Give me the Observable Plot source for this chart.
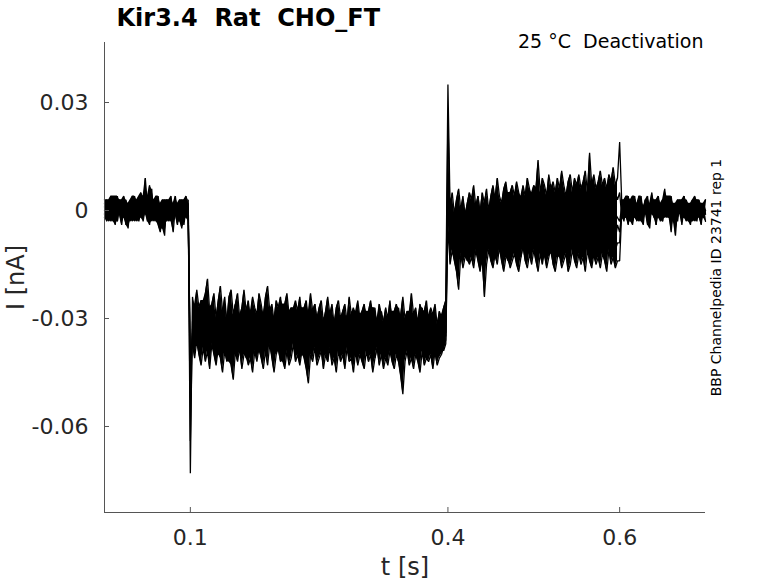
<!DOCTYPE html>
<html>
<head>
<meta charset="utf-8">
<script src="https://cdn.jsdelivr.net/npm/d3@7"></script>
<script src="https://cdn.jsdelivr.net/npm/@observablehq/plot@0.6"></script>
<style>
  html, body { margin: 0; padding: 0; background: #fff; }
</style>
</head>
<body>
<div id="chart"></div>
<script>
// ---- text ----
const title = "Kir3.4  Rat  CHO_FT";
const condition = "25 °C  Deactivation";
const sideNote = "BBP Channelpedia ID 23741 rep 1";
const xLabel = "t [s]";
const yLabel = "I [nA]";
const xTicks = [0.1, 0.4, 0.6];
const yTicks = [0.03, 0, -0.03, -0.06];

// ---- sampling (s) and segment boundaries ----
const dt = 0.0025;
const tStepOn = 0.1, tStepOff = 0.4, tEnd = 0.6;

// ---- current samples in pA, one row per sweep ----
// holding before the step, 0 – 0.0975 s
const restBefore = [
  [1,-2,3,0,-3,2,4,-1,-4,1,3,-2,0,4,-3,-1,2,5,-2,9,1,-3,3,-1,2,-4,-6,0,3,-2,1,4,-3,0,2,-1,3,-4,1,2],
  [-2,1,-3,3,0,-4,2,-1,3,-2,1,-5,2,0,3,-3,1,-2,4,0,-2,7,-1,2,-3,1,0,-5,2,-2,3,-1,-6,1,2,-3,0,3,-2,1],
  [3,-1,0,-3,2,4,-2,1,-1,3,-4,2,1,-2,0,3,-1,2,-3,1,4,-2,6,-3,0,2,-2,1,-7,3,0,-2,2,-1,-4,2,1,-3,4,0],
  [0,2,-2,1,4,-3,0,3,-2,-1,2,0,-3,3,1,-2,4,-1,0,2,-3,1,-1,3,-2,0,2,-4,1,3,-1,-3,2,0,-2,3,1,-2,0,3],
  [-1,3,1,-2,-1,3,-3,2,0,4,-1,-3,3,-1,2,1,-3,0,3,-1,2,-4,2,0,-1,4,-2,3,-1,0,-3,2,-2,4,-1,0,-5,2,-1,-2],
  [2,-3,2,4,-1,0,-3,3,1,-2,0,2,-1,-3,4,0,-2,3,-2,1,0,3,-3,1,4,-1,2,-2,0,-3,2,1,-2,3,-3,1,2,-1,3,-3]
];
// capacitive peak at t = 0.1 s
const onsetPeak = [-73, -64, -52, -47, -42, -40];
// during the step, 0.1025 – 0.3975 s
const pulse = [
  [-24,-29,-22,-27,-25,-30,-23,-19,-28,-26, -23,-30,-25,-21,-28,-26,-31,-24,-22,-29, -26,-23,-30,-27,-22,-28,-25,-31,-24,-27,
   -29,-23,-26,-30,-24,-21,-28,-26,-31,-25, -27,-24,-30,-26,-23,-29,-27,-32,-25,-28, -24,-30,-27,-25,-31,-23,-28,-26,-30,-27,
   -25,-31,-28,-24,-29,-26,-32,-27,-25,-30, -28,-26,-31,-24,-29,-27,-32,-25,-30,-28, -26,-31,-28,-25,-30,-27,-33,-26,-29,-31,
   -27,-30,-25,-32,-28,-26,-31,-29,-24,-30, -28,-31,-23,-29,-27,-32,-26,-30,-28,-25, -31,-27,-29,-26,-32,-28,-30,-27,-25],
  [-31,-26,-33,-28,-30,-25,-32,-29,-27,-34, -28,-31,-26,-33,-29,-24,-31,-27,-32,-29, -26,-33,-29,-31,-25,-30,-34,-28,-27,-32,
   -30,-27,-33,-29,-26,-31,-28,-34,-30,-27, -32,-29,-26,-33,-30,-28,-31,-27,-34,-29, -31,-27,-33,-30,-28,-34,-29,-26,-32,-30,
   -28,-33,-30,-27,-32,-29,-35,-30,-28,-31, -33,-29,-31,-27,-34,-30,-28,-32,-29,-35, -30,-28,-33,-31,-27,-32,-30,-34,-28,-31,
   -29,-34,-31,-28,-33,-30,-27,-32,-35,-30, -32,-28,-31,-34,-29,-33,-30,-27,-32,-31, -29,-33,-30,-28,-34,-31,-29,-32,-30],
  [-33,-29,-35,-31,-28,-34,-30,-36,-32,-29, -34,-30,-32,-37,-29,-33,-31,-35,-28,-32, -30,-35,-32,-29,-34,-31,-37,-30,-33,-28,
   -35,-31,-33,-30,-36,-32,-29,-34,-31,-37, -32,-30,-35,-33,-29,-34,-31,-36,-32,-30, -34,-31,-36,-32,-30,-35,-33,-29,-34,-31,
   -36,-32,-30,-35,-33,-37,-31,-34,-30,-33, -31,-35,-33,-30,-36,-32,-34,-38,-31,-33, -35,-32,-30,-34,-37,-33,-31,-35,-32,-36,
   -33,-30,-35,-32,-37,-34,-31,-33,-36,-32, -34,-37,-31,-33,-35,-30,-34,-36,-32,-33, -35,-31,-34,-37,-32,-33,-36,-31,-34],
  [-35,-31,-37,-33,-30,-36,-34,-38,-32,-35, -37,-33,-36,-31,-39,-34,-32,-37,-35,-40, -34,-38,-32,-36,-33,-39,-35,-31,-37,-34,
   -36,-32,-38,-34,-37,-33,-35,-39,-32,-36, -34,-37,-33,-36,-31,-38,-35,-33,-37,-34, -38,-33,-36,-34,-39,-32,-37,-35,-33,-36,
   -35,-38,-34,-37,-33,-36,-40,-34,-36,-33, -37,-34,-36,-39,-33,-35,-38,-34,-37,-35, -33,-37,-35,-38,-34,-36,-32,-37,-35,-39,
   -36,-34,-38,-35,-37,-33,-36,-39,-34,-37, -35,-38,-34,-36,-33,-37,-35,-39,-34,-36, -37,-33,-36,-35,-38,-34,-36,-33,-35],
  [-34,-38,-33,-37,-40,-35,-39,-36,-41,-34, -38,-35,-40,-37,-33,-39,-36,-42,-35,-38, -40,-36,-39,-34,-38,-41,-35,-37,-40,-36,
   -35,-39,-37,-41,-34,-38,-36,-40,-37,-35, -39,-36,-42,-37,-35,-40,-38,-34,-39,-37, -36,-40,-35,-38,-41,-36,-39,-37,-34,-40,
   -38,-35,-39,-42,-36,-38,-35,-40,-37,-39, -35,-39,-37,-41,-36,-38,-40,-35,-38,-36, -40,-37,-35,-39,-36,-41,-38,-35,-39,-37,
   -36,-40,-38,-35,-39,-37,-42,-36,-38,-40, -37,-35,-39,-36,-40,-38,-35,-39,-37,-41, -36,-39,-37,-40,-35,-38,-36,-39,-37],
  [-37,-41,-36,-40,-43,-38,-42,-39,-44,-37, -40,-43,-38,-41,-45,-39,-42,-37,-43,-47, -39,-42,-38,-44,-40,-37,-43,-41,-45,-39,
   -42,-38,-41,-44,-39,-43,-37,-41,-45,-40, -38,-42,-40,-44,-39,-43,-41,-37,-42,-40, -43,-39,-41,-44,-48,-40,-42,-38,-43,-41,
   -39,-44,-40,-42,-38,-43,-41,-45,-39,-42, -40,-44,-38,-42,-41,-45,-39,-43,-40,-42, -44,-39,-42,-40,-45,-41,-38,-43,-40,-44,
   -41,-43,-39,-42,-44,-40,-42,-46,-51,-42, -39,-43,-41,-44,-40,-42,-45,-39,-43,-41, -42,-40,-44,-39,-43,-41,-40,-38,-36]
];
// tail peak at t = 0.4 s
const offsetPeak = [35, 26, 14, 8, 2, -4];
// deactivation tails, 0.4025 – 0.5975 s
const deactivation = [
  [1,5,-1,3,6,0,4,-2,2,5, 3,7,1,4,-1,5,2,6,0,4, 7,3,9,4,2,6,8,3,5,7, 4,8,5,2,7,4,9,6,3,7,
   6,14,5,9,7,4,10,6,8,5, 9,6,11,7,4,8,10,5,9,7, 10,6,8,11,5,16,7,10,6,8, 11,7,9,6,10,8,12,7,9],
  [-3,1,-2,2,-4,0,3,-1,1,-3, 2,-2,0,4,-1,1,-3,3,0,-2, 1,4,-1,2,-2,3,0,5,-1,2, 0,3,-2,4,1,-1,3,0,5,1,
   0,4,2,6,1,3,-1,5,2,4, 3,1,5,0,4,2,6,1,3,5, 2,6,3,1,5,3,7,2,4,1, 5,3,6,2,4,7,1,5,3],
  [-6,-2,-5,-1,-4,-7,-3,-5,-1,-4, -2,-6,-3,-5,0,-4,-2,-6,-3,-1, -5,-2,-4,-6,-1,-3,-5,-2,0,-4, -3,-6,-1,-4,-2,-5,-3,0,-4,-2,
   -1,-4,-2,-5,-3,0,-3,-1,-4,-2, -4,-1,-3,0,-5,-2,-3,1,-2,-4, -1,-3,0,-4,-2,1,-3,-1,-4,-2, 0,-3,-1,-4,-2,1,-3,-1,-2],
  [-9,-5,-8,-4,-10,-6,-9,-7,-4,-8, -6,-10,-7,-5,-9,-6,-11,-7,-4,-8, -5,-9,-7,-4,-8,-6,-10,-5,-8,-6, -9,-6,-4,-8,-7,-10,-5,-7,-4,-8,
   -6,-9,-5,-7,-3,-8,-6,-9,-4,-7, -5,-8,-6,-3,-7,-9,-4,-6,-8,-5, -7,-4,-8,-5,-3,-7,-6,-9,-4,-6, -5,-8,-4,-6,-3,-7,-5,-8,-4],
  [-12,-8,-11,-13,-9,-7,-12,-10,-14,-9, -11,-13,-8,-12,-10,-15,-9,-11,-7,-12, -10,-13,-9,-11,-8,-12,-10,-14,-9,-11, -8,-12,-10,-13,-9,-11,-7,-12,-10,-8,
   -12,-9,-11,-7,-13,-10,-8,-12,-9,-11, -10,-13,-8,-11,-9,-12,-7,-10,-13,-9, -11,-8,-12,-10,-7,-11,-9,-13,-8,-10, -12,-9,-7,-11,-10,-13,-8,-11,-9],
  [-15,-11,-14,-17,-22,-12,-16,-13,-10,-15, -13,-16,-11,-14,-17,-12,-24,-15,-11,-14, -16,-12,-15,-10,-14,-17,-13,-11,-16,-14, -12,-15,-17,-13,-10,-14,-16,-12,-15,-11,
   -14,-17,-12,-15,-11,-16,-13,-10,-15,-17, -13,-11,-16,-14,-12,-17,-15,-11,-14,-16, -12,-15,-13,-17,-11,-14,-16,-12,-15,-13, -16,-12,-14,-17,-11,-15,-13,-16,-14]
];
// value at t = 0.6 s
const endPeak = [19, 5, -3, -6, -9, -14];
// holding after the tail, 0.6025 – 0.7 s
const restAfter = [
  [2,-1,3,-3,1,4,-2,0,3,-1,-4,2,1,-2,5,0,-3,2,-1,3,-2,1,4,-3,0,2,-1,3,-4,1,2,-2,0,3,-1,-3,2,1,-2,3],
  [-2,3,0,-4,2,-1,1,-3,4,-2,0,3,-1,-5,2,1,-2,4,0,-3,3,-1,2,-6,1,-2,3,0,-1,4,-3,1,2,-2,0,3,-1,-4,2,0],
  [1,-3,2,4,-1,-2,3,0,-3,2,1,-1,4,-2,0,3,-4,1,2,-1,6,-2,0,3,-3,1,-1,2,-2,4,0,-3,1,3,-2,0,2,-1,1,-3],
  [-1,2,-2,1,3,-4,0,2,-1,4,-2,1,-3,2,0,-1,3,-2,1,-3,2,0,-2,4,-1,1,-3,2,0,-2,3,1,-4,2,-1,0,3,-2,1,-1],
  [3,0,-2,2,-3,1,4,-1,2,-3,0,3,-2,1,-1,2,-4,3,0,-2,1,-1,3,-2,2,-7,1,0,3,-1,-2,2,0,-3,4,1,-1,2,-2,0],
  [0,-2,4,-1,2,-3,1,0,-2,3,-1,2,-4,1,3,-2,0,2,-3,1,-1,4,-2,0,2,-3,1,-1,3,-2,0,2,-1,3,-3,1,-2,0,2,-1]
];

// ---- build a long table (time in s, current in nA) ----
const rows = [];
restBefore.forEach((_, k) => {
  const push = (t, pA) => rows.push({sweep: k, t, I: pA / 1000});
  restBefore[k].forEach((v, i) => push(i * dt, v));
  push(tStepOn, onsetPeak[k]);
  pulse[k].forEach((v, i) => push(tStepOn + (i + 1) * dt, v));
  push(tStepOff, offsetPeak[k]);
  deactivation[k].forEach((v, i) => push(tStepOff + (i + 1) * dt, v));
  push(tEnd, endPeak[k]);
  restAfter[k].forEach((v, i) => push(tEnd + (i + 1) * dt, v));
});

// overlap of the sweeps: span of all sweeps at each sample (where the traces merge into black)
const segments = [
  {part: 0, sweeps: restBefore, t0: 0, first: 0},
  {part: 1, sweeps: pulse, t0: tStepOn, first: 1},
  {part: 2, sweeps: deactivation, t0: tStepOff, first: 1},
  {part: 3, sweeps: restAfter, t0: tEnd, first: 1}
];
const overlap = [];
for (const s of segments) {
  const n = s.sweeps[0].length;
  for (let i = 0; i < n; i++) {
    const v = s.sweeps.map(w => w[i]);
    overlap.push({part: s.part, t: s.t0 + (i + s.first) * dt, lo: d3.min(v) / 1000, hi: d3.max(v) / 1000});
  }
}

const W = 778, H = 583;
const mL = 104, mR = 73, mT = 42, mB = 71;
const xDomain = [0, 0.7];
const yDomain = [-0.08389, 0.04667];
const axisColor = "#262626";
const frameW = W - mL - mR, frameH = H - mT - mB;
const tick = 5;

const chart = Plot.plot({
  width: W, height: H,
  marginLeft: mL, marginRight: mR, marginTop: mT, marginBottom: mB,
  x: {domain: xDomain},
  y: {domain: yDomain},
  style: {fontFamily: "'DejaVu Sans', sans-serif", background: "#fff", color: axisColor, overflow: "visible"},
  marks: [
    Plot.areaY(overlap, {x: "t", y1: "lo", y2: "hi", z: "part", fill: "#000"}),
    Plot.line(rows, {x: "t", y: "I", z: "sweep", stroke: "#000", strokeWidth: 1.3, strokeLinejoin: "miter"}),
    // axis lines
    Plot.ruleX([xDomain[0]], {stroke: "#555", strokeWidth: 1}),
    Plot.ruleY([yDomain[0]], {stroke: "#555", strokeWidth: 1}),
    // inward ticks
    Plot.ruleX(xTicks, {stroke: "#555", strokeWidth: 1, insetTop: frameH - tick}),
    Plot.ruleY(yTicks, {stroke: "#555", strokeWidth: 1, insetRight: frameW - tick}),
    Plot.axisX(xTicks, {tickSize: 0, tickPadding: 17, fontSize: 22, tickFormat: d => String(d), label: null, fill: axisColor}),
    Plot.axisY(yTicks, {tickSize: 0, tickPadding: 16, fontSize: 22, tickFormat: d => String(d), label: null, fill: axisColor}),
    Plot.text([xLabel], {frameAnchor: "bottom", textAnchor: "middle", lineAnchor: "middle", dy: 55, fontSize: 24, fill: axisColor}),
    Plot.text([yLabel], {frameAnchor: "left", textAnchor: "middle", lineAnchor: "middle", rotate: -90, dx: -88, fontSize: 24, fill: axisColor}),
    Plot.text([title], {frameAnchor: "top-left", textAnchor: "start", lineAnchor: "middle", dx: 12, dy: -24, fontSize: 24, fontWeight: "bold", fill: "#000"}),
    Plot.text([condition], {frameAnchor: "top-right", textAnchor: "end", lineAnchor: "middle", dx: -2, dy: -1, fontSize: 19, fill: "#000"}),
    Plot.text([sideNote], {frameAnchor: "right", textAnchor: "middle", lineAnchor: "middle", rotate: -90, dx: 11, fontSize: 14, fill: "#000"})
  ]
});
document.getElementById("chart").appendChild(chart);
</script>
</body>
</html>
